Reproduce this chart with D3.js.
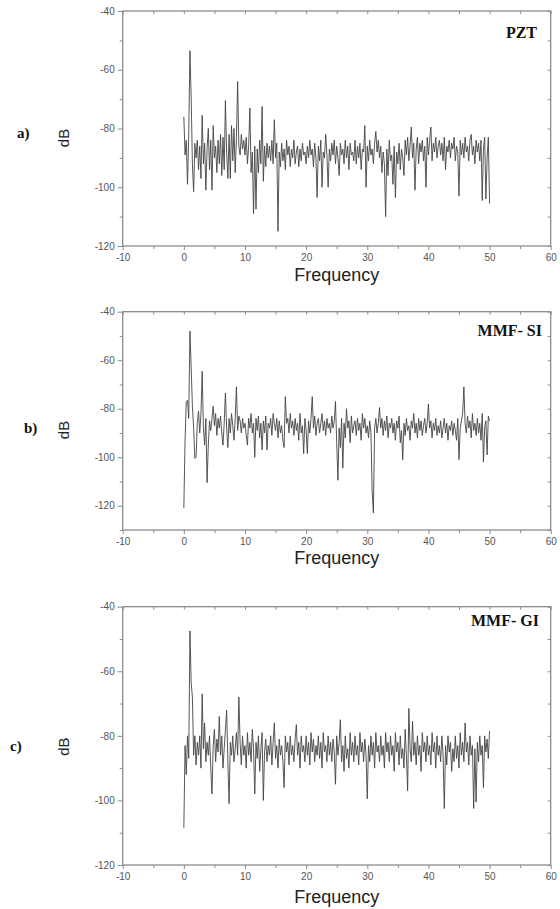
<!DOCTYPE html>
<html>
<head>
<meta charset="utf-8">
<script src="https://cdn.jsdelivr.net/npm/d3@7"></script>
<style>
  body { margin: 0; background: #fff; }
</style>
</head>
<body>
<svg id="chart"></svg>
<script>
// frequency grid, 0 to 50 in steps of 0.2
const freq = d3.range(0, 251).map(i => +(i * 0.2).toFixed(1));

// PZT spectrum (dB), one row per 2 Hz
const pzt = [
  -76, -89, -84, -99, -82, -53.5, -69.5, -92, -101.5, -85,
  -90, -84, -94, -86, -97, -75.5, -92, -85, -101, -87,
  -80, -94, -84, -101, -79, -90, -86, -95, -84, -92,
  -82, -96, -83, -94, -70.5, -88, -97, -82, -97, -79,
  -91, -80, -95, -83, -64, -86, -89, -82, -87, -84,
  -89, -83, -92, -86, -73, -95, -88, -109, -86, -107.5,
  -87, -95, -84, -92, -72.5, -98, -86, -93, -85, -90,
  -86, -91, -84, -92, -77, -90, -85, -115, -88, -93,
  -85, -91, -87, -94, -84, -89, -86, -93, -87, -90,
  -84, -92, -88, -86, -93, -87, -91, -85, -89, -88,
  -92, -86, -90, -84, -89, -87, -93, -85, -90, -103.5,
  -86, -91, -84, -100, -88, -90, -82, -89, -100, -87,
  -91, -85, -89, -84, -92, -86, -90, -96, -85, -89,
  -87, -92, -84, -90, -86, -94, -85, -89, -88, -91,
  -84, -92, -86, -90, -85, -94, -87, -88, -79, -100,
  -86, -91, -84, -89, -87, -92, -85, -81, -88, -84,
  -90, -86, -95, -88, -92, -110, -87, -96, -84, -91,
  -89, -99, -86, -103.5, -88, -92, -85, -94, -87, -90,
  -96, -84, -89, -83, -91, -86, -79.5, -90, -85, -101,
  -87, -83, -92, -85, -88, -84, -91, -86, -100, -83,
  -89, -84, -79.5, -91, -85, -88, -83, -90, -86, -84,
  -89, -85, -91, -83, -94, -86, -88, -84, -90, -85,
  -87, -83, -91, -86, -88, -103, -84, -89, -85, -90,
  -83, -88, -86, -91, -84, -82, -89, -86, -92, -84,
  -88, -85, -91, -84, -104.5, -87, -83, -104, -90, -83,
  -105.5
];

// MMF-SI spectrum (dB)
const mmfSI = [
  -121, -93, -77, -76.5, -84, -48, -63, -79, -88, -100.5,
  -100, -86, -81, -90, -82, -64.5, -88, -95, -84, -110.5,
  -95, -85, -89, -84, -79, -87, -82, -91, -84, -88,
  -83, -90, -95, -86, -73.5, -88, -96, -84, -90, -82,
  -87, -93, -84, -71, -89, -83, -85, -90, -84, -88,
  -86, -91, -95, -84, -88, -82, -90, -86, -100, -84,
  -89, -83, -92, -86, -97, -85, -90, -83, -97, -86,
  -88, -84, -91, -82, -86, -89, -84, -92, -85, -90,
  -87, -93, -96, -75, -86, -84, -90, -82, -88, -85,
  -91, -84, -89, -86, -93, -82, -90, -87, -98.5, -84,
  -89, -98.5, -85, -90, -84, -75, -88, -83, -91, -86,
  -84, -90, -86, -82, -89, -85, -91, -84, -88, -86,
  -90, -83, -88, -85, -77, -94, -109.5, -88, -96, -84,
  -104.5, -86, -92, -80, -88, -85, -94, -83, -90, -87,
  -85, -91, -84, -89, -86, -93, -82, -88, -84, -90,
  -87, -92, -85, -90, -114, -123, -88, -84, -90, -86,
  -79.5, -88, -84, -91, -85, -89, -83, -92, -86, -88,
  -84, -90, -86, -93, -85, -88, -83, -94, -89, -101,
  -86, -91, -84, -89, -87, -93, -85, -88, -82, -90,
  -86, -92, -84, -89, -85, -91, -87, -84, -90, -86,
  -78, -88, -85, -92, -86, -89, -84, -91, -87, -90,
  -85, -92, -88, -84, -90, -86, -93, -87, -89, -85,
  -91, -86, -89, -93, -84, -101, -88, -85, -82, -71,
  -86, -90, -83, -88, -85, -92, -82, -89, -86, -91,
  -84, -90, -86, -93, -82, -102, -88, -85, -99, -83,
  -85
];

// MMF-GI spectrum (dB)
const mmfGI = [
  -108.5, -83, -92, -80, -87, -47.5, -63.5, -68, -86, -80,
  -89, -82, -86, -80, -90, -67, -84, -76, -88, -82,
  -86, -80, -90, -98, -83, -78, -88, -81, -85, -74,
  -86, -80, -90, -84, -78, -72, -88, -101, -82, -86,
  -80, -88, -84, -79, -86, -68, -82, -89, -80, -86,
  -83, -90, -79, -86, -82, -88, -78, -84, -98, -82,
  -87, -80, -91, -84, -79, -100, -85, -81, -88, -83,
  -86, -80, -89, -82, -76, -87, -83, -90, -81, -86,
  -83, -88, -96, -80, -85, -82, -89, -80, -86, -83,
  -88, -81, -76.5, -86, -82, -90, -80, -85, -83, -88,
  -80, -86, -82, -89, -79, -85, -81, -88, -83, -86,
  -80, -87, -82, -90, -79, -85, -83, -88, -80, -86,
  -82, -88, -81, -85, -95, -80, -86, -82, -75, -88,
  -83, -91, -80, -87, -84, -90, -79, -86, -82, -88,
  -80, -86, -83, -89, -79, -85, -82, -88, -81, -86,
  -99.5, -83, -88, -80, -86, -82, -90, -79, -85, -83,
  -88, -80, -86, -83, -90, -79, -85, -82, -88, -80,
  -86, -83, -91, -79, -85, -82, -89, -80, -87, -84,
  -90, -78, -86, -97, -71.5, -84, -88, -75.5, -86, -82,
  -89, -80, -86, -83, -91, -79, -85, -82, -88, -80,
  -86, -83, -89, -79, -85, -82, -90, -80, -86, -83,
  -88, -80, -86, -102.5, -83, -89, -80, -85, -82, -91,
  -84, -88, -80, -87, -83, -90, -79, -86, -82, -88,
  -76, -85, -82, -89, -80, -86, -83, -102.5, -84, -100.5,
  -82, -88, -80, -86, -83, -96, -80, -85, -81, -87,
  -78.5
];

const xMajor = [-10, 0, 10, 20, 30, 40, 50, 60];
const xMinor = [-5, 5, 15, 25, 35, 45, 55];
const yMajor = [-40, -60, -80, -100, -120];

const svg = d3.select("#chart")
    .attr("width", 560)
    .attr("height", 909);

const x = d3.scaleLinear().domain([-10, 60]).range([122.7, 550.7]);

const panels = [
    {values: pzt, name: "PZT", tag: "a)", top: 11, bottom: 246, yDomain: [-120, -40],
     tagX: 17, tagY: 133, nameX: 537, nameY: 32, freqY: 281, dbY: 138},
    {values: mmfSI, name: "MMF- SI", tag: "b)", top: 311.7, bottom: 530, yDomain: [-130, -40],
     tagX: 24, tagY: 428, nameX: 542, nameY: 330, freqY: 564, dbY: 430},
    {values: mmfGI, name: "MMF- GI", tag: "c)", top: 606.7, bottom: 865, yDomain: [-120, -40],
     tagX: 10, tagY: 745.7, nameX: 539, nameY: 620.7, freqY: 902.5, dbY: 746.7}
];

function styleAxis(g) {
    g.select(".domain").remove();
    g.selectAll("line").attr("stroke", "#8c8c8c").attr("stroke-width", 1);
    g.selectAll("text")
        .attr("fill", "#555")
        .style("font-family", "Liberation Sans, Arial, sans-serif")
        .style("font-size", "10px");
}

panels.forEach(p => {
    const y = d3.scaleLinear().domain(p.yDomain).range([p.bottom, p.top]);
    const yMinor = d3.range(p.yDomain[0], p.yDomain[1] + 1, 10).filter(v => !yMajor.includes(v));
    const g = svg.append("g");

    // left axis (outward ticks)
    g.append("g").attr("transform", `translate(${x(-10)},0)`)
        .call(d3.axisLeft(y).tickValues(yMajor).tickSize(5).tickPadding(3).tickFormat(d => String(d)))
        .call(styleAxis);
    g.append("g").attr("transform", `translate(${x(-10)},0)`)
        .call(d3.axisLeft(y).tickValues(yMinor).tickSize(3).tickFormat(""))
        .call(styleAxis);

    // right axis (inward ticks)
    g.append("g").attr("transform", `translate(${x(60)},0)`)
        .call(d3.axisLeft(y).tickValues(yMajor.concat(yMinor)).tickSize(3).tickFormat(""))
        .call(styleAxis);

    // bottom axis (outward ticks)
    g.append("g").attr("transform", `translate(0,${p.bottom})`)
        .call(d3.axisBottom(x).tickValues(xMajor).tickSize(4).tickPadding(4).tickFormat(d => String(d)))
        .call(styleAxis);
    g.append("g").attr("transform", `translate(0,${p.bottom})`)
        .call(d3.axisBottom(x).tickValues(xMinor).tickSize(3).tickFormat(""))
        .call(styleAxis);

    // top axis (inward ticks)
    g.append("g").attr("transform", `translate(0,${p.top})`)
        .call(d3.axisBottom(x).tickValues(xMajor.concat(xMinor)).tickSize(3).tickFormat(""))
        .call(styleAxis);

    // frame
    g.append("rect")
        .attr("x", x(-10))
        .attr("y", p.top)
        .attr("width", x(60) - x(-10))
        .attr("height", p.bottom - p.top)
        .attr("fill", "none")
        .attr("stroke", "#8c8c8c")
        .attr("stroke-width", 1.3);

    // spectrum
    const line = d3.line()
        .x((d, i) => x(freq[i]))
        .y(d => y(d));
    g.append("path")
        .datum(p.values)
        .attr("d", line)
        .attr("fill", "none")
        .attr("stroke", "#444")
        .attr("stroke-width", 0.9)
        .attr("stroke-linejoin", "round");

    // axis titles
    g.append("text")
        .attr("x", x(25))
        .attr("y", p.freqY)
        .attr("text-anchor", "middle")
        .style("font-family", "Liberation Sans, Arial, sans-serif")
        .style("font-size", "18px")
        .attr("fill", "#222")
        .text("Frequency");

    g.append("text")
        .attr("transform", `translate(69,${p.dbY}) rotate(-90)`)
        .attr("text-anchor", "middle")
        .style("font-family", "Liberation Sans, Arial, sans-serif")
        .style("font-size", "15px")
        .attr("fill", "#222")
        .text("dB");

    // panel tag and sample name
    g.append("text")
        .attr("x", p.tagX)
        .attr("y", p.tagY)
        .attr("dy", "0.35em")
        .style("font-family", "Liberation Serif, Times New Roman, serif")
        .style("font-weight", "bold")
        .style("font-size", "15px")
        .attr("fill", "#111")
        .text(p.tag);

    g.append("text")
        .attr("x", p.nameX)
        .attr("y", p.nameY)
        .attr("dy", "0.35em")
        .attr("text-anchor", "end")
        .style("font-family", "Liberation Serif, Times New Roman, serif")
        .style("font-weight", "bold")
        .style("font-size", "16px")
        .attr("fill", "#111")
        .text(p.name);
});
</script>
</body>
</html>
